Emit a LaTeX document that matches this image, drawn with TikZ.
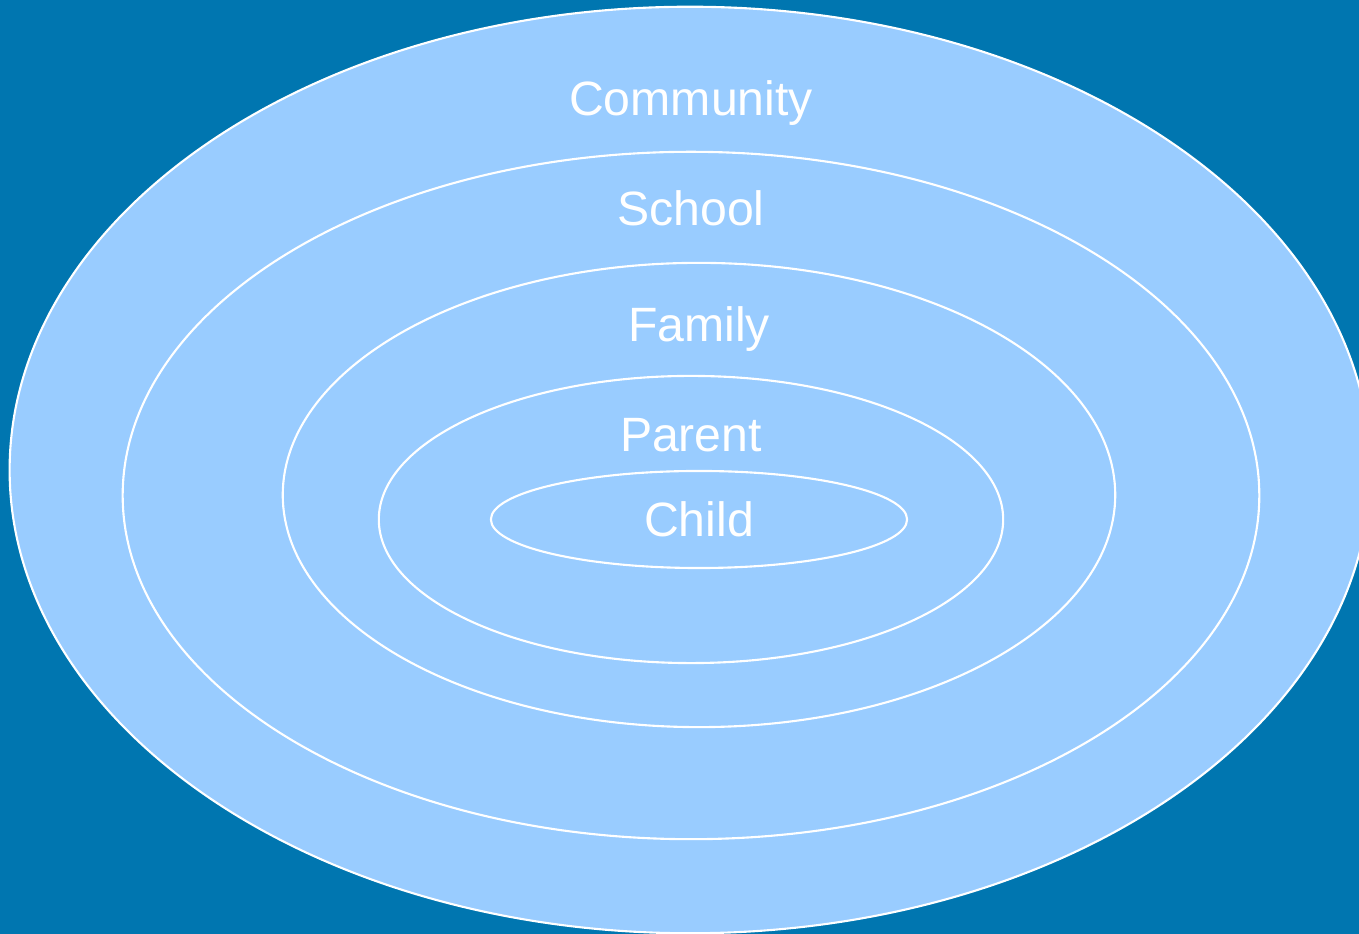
\documentclass[tikz,border=0pt]{standalone}
\usepackage{fontspec}
\setmainfont{Liberation Sans}
\usetikzlibrary{
  shapes.geometric,
  positioning
}
\definecolor{ringBack}{HTML}{0076B0}
\definecolor{ringFill}{HTML}{99CCFF}
\tikzset{
  ring/.style={
    draw=white, ellipse, fill=ringFill, line width=0.6pt, inner sep=0pt
  },
  ringlabel/.style={
    text=white, anchor=base, inner sep=0pt,
    font=\fontsize{13.7pt}{16pt}\selectfont
  }
}

\begin{document}
\begin{tikzpicture}[x=0.01cm, y=-0.01cm]
  % backdrop
  \fill[ringBack] (0,0) rectangle (1359,934);
  \useasboundingbox (0,0) rectangle (1359,934);
  % nested circles, outermost first
  \foreach \name/\cx/\cy/\w/\h in {
    community/690/470/13.60/9.26,
    school/691/495.5/11.36/6.87,
    family/699/495/8.32/4.64,
    parent/691/519.5/6.24/2.87,
    child/699/519.5/4.16/0.97}{
    \node[ring, minimum width=\w cm, minimum height=\h cm] (\name) at (\cx,\cy) {};
  }
  % labels sit on their baselines
  \foreach \name/\txt/\x/\y in {
    community/Community/691/116,
    school/School/691/226,
    family/Family/699/342,
    parent/Parent/691/452,
    child/Child/699/537}{
    \node[ringlabel] (lbl-\name) at (\x,\y) {\txt};
  }
\end{tikzpicture}
\end{document}
